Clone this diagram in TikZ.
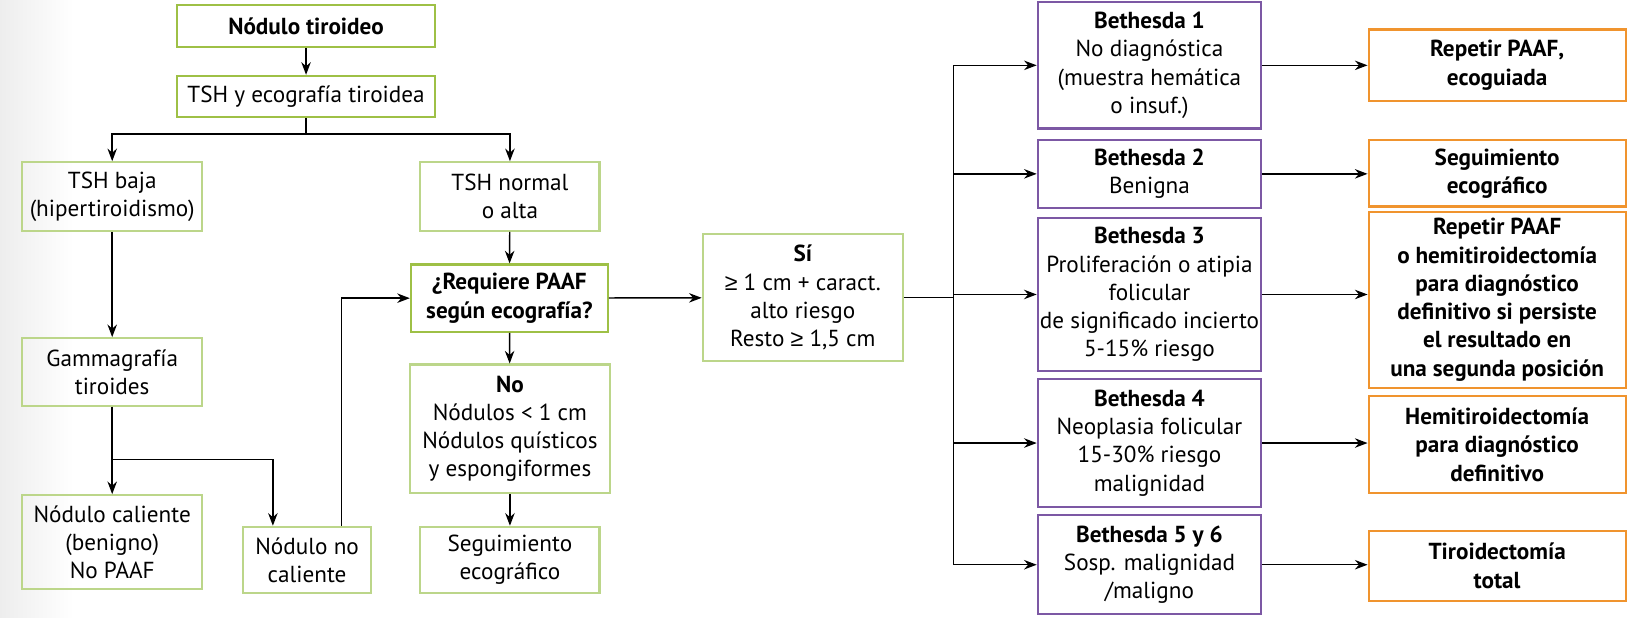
\documentclass[tikz,border=0pt]{standalone}
\usepackage{fontspec}
\setmainfont{PT Sans}
\newfontfamily\geqfont{Liberation Sans}
\usetikzlibrary{arrows.meta}
\definecolor{gdark}{RGB}{158,192,70}
\definecolor{glight}{RGB}{188,214,138}
\definecolor{purp}{RGB}{124,88,164}
\definecolor{oran}{RGB}{240,148,46}
\newcommand{\flowfont}{\fontsize{11}{13.4}\selectfont}
\newcommand{\gq}{{\geqfont ≥}}

\begin{document}
\begin{tikzpicture}[x=0.5pt,y=-0.5pt,font=\flowfont,
        box/.style={draw, line width=1pt, align=center, inner sep=1pt},
        gbox/.style={box, draw=glight},
        gdbox/.style={box, draw=gdark},
        pbox/.style={box, draw=purp, minimum width=106pt},
        obox/.style={box, draw=oran, minimum width=122pt, font=\flowfont\bfseries},
        arr/.style={line width=0.7pt, -{Stealth[length=6pt,width=4.5pt]}}]
        \useasboundingbox (0,0) rectangle (1568,586);
        \shade[left color=black!7, right color=white] (0,0) rectangle (70,586);

        \node [gdbox, minimum width=122.5pt, minimum height=20pt] (nt) at (290.5,25) {\bfseries Nódulo tiroideo};
        \node [gdbox, minimum width=122.5pt, minimum height=19.5pt] (tsh) at (290.5,91.5) {TSH y ecografía tiroidea};
        \node [gbox, minimum width=85.5pt, minimum height=32.5pt] (baja) at (106.5,186.5) {TSH baja\\(hipertiroidismo)};
        \node [gbox, minimum width=85pt, minimum height=32.5pt] (normal) at (484,186.5) {TSH normal\\o alta};
        \node [gdbox, minimum width=93.5pt, minimum height=32pt] (req) at (483.5,283) {\bfseries ¿Requiere PAAF\\\bfseries según ecografía?};
        \node [gbox, minimum width=95pt, minimum height=61pt] (no) at (484,407) {{\bfseries No}\\Nódulos < 1 cm\\Nódulos quísticos\\y espongiformes};
        \node [gbox, minimum width=85pt, minimum height=31.5pt] (seg) at (484,531.5) {Seguimiento\\ecográfico};
        \node [gbox, minimum width=85.5pt, minimum height=32pt] (gam) at (106.5,353) {Gammagrafía\\tiroides};
        \node [gbox, minimum width=85.5pt, minimum height=44.5pt] (cal) at (106.5,514.5) {Nódulo caliente\\(benigno)\\No PAAF};
        \node [gbox, minimum width=60.5pt, minimum height=31.5pt] (nocal) at (291.5,531.5) {Nódulo no\\caliente};
        \node [gbox, minimum width=95pt, minimum height=60.5pt] (si) at (762,282.5) {{\bfseries Sí}\\\gq{} 1 cm + caract.\\alto riesgo\\Resto \gq{} 1,5 cm};

        \node [pbox, minimum height=60pt] (b1) at (1091,62) {{\bfseries Bethesda 1}\\No diagnóstica\\(muestra hemática\\o insuf.)};
        \node [pbox, minimum height=32pt] (b2) at (1091,165) {{\bfseries Bethesda 2}\\Benigna};
        \node [pbox, minimum height=72.5pt] (b3) at (1091,279.5) {{\bfseries Bethesda 3}\\Proliferación o atipia\\folicular\\de significado incierto\\5-15\% riesgo};
        \node [pbox, minimum height=60.5pt] (b4) at (1091,420.5) {{\bfseries Bethesda 4}\\Neoplasia folicular\\15-30\% riesgo\\malignidad};
        \node [pbox, minimum height=47pt] (b5) at (1091,536) {{\bfseries Bethesda 5 y 6}\\Sosp. malignidad\\/maligno};

        \node [obox, minimum height=34pt] (o1) at (1421,62) {Repetir PAAF,\\ecoguiada};
        \node [obox, minimum height=31.5pt] (o2) at (1421,164.5) {Seguimiento\\ecográfico};
        \node [obox, minimum height=83.5pt] (o3) at (1421,284.5) {Repetir PAAF\\o hemitiroidectomía\\para diagnóstico\\definitivo si persiste\\el resultado en\\una segunda posición};
        \node [obox, minimum height=46pt] (o4) at (1421,422) {Hemitiroidectomía\\para diagnóstico\\definitivo};
        \node [obox, minimum height=33pt] (o5) at (1421,537) {Tiroidectomía\\total};

        \coordinate (br) at (290.5,127);
        \coordinate (br2) at (106.5,436);
        \coordinate (tr) at (905,282.5);

        \draw [arr] (nt) -- (tsh);
        \draw [line width=0.7pt] (tsh) -- (br);
        \draw [arr] (br) -| (baja);
        \draw [arr] (br) -| (normal);
        \draw [arr] (baja) -- (gam);
        \draw [line width=0.7pt] (gam) -- (br2);
        \draw [arr] (br2) -- (cal);
        \draw [arr] (br2) -| (nocal.135);
        \draw [arr] (nocal.45) |- (req);
        \draw [arr] (normal) -- (req);
        \draw [arr] (req) -- (no);
        \draw [arr] (no) -- (seg);
        \draw [arr] (req) -- (si);
        \draw [line width=0.7pt] (si) -- (tr);
        \draw [line width=0.7pt] (tr |- b1.west) -- (tr |- b5.west);
        \foreach \n in {1,...,5} {
            \draw [arr] (tr |- b\n.west) -- (b\n.west);
            \draw [arr] (b\n.east) -- (b\n.east -| o\n.west);
        }
    \end{tikzpicture}
\end{document}
